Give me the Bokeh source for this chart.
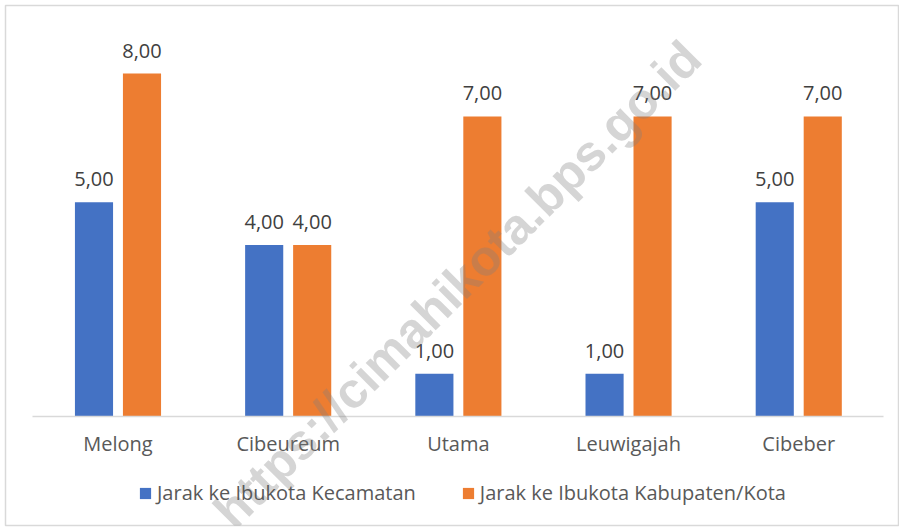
import numpy as np
from bokeh.plotting import figure
from bokeh.models import ColumnDataSource, Range1d, Legend, LegendItem, Label, FixedTicker
from bokeh.core.properties import value
from bokeh.embed import file_html
from bokeh.resources import INLINE

categories = ["Melong", "Cibeureum", "Utama", "Leuwigajah", "Cibeber"]
kecamatan = [5.0, 4.0, 1.0, 1.0, 5.0]
kabupaten = [8.0, 4.0, 7.0, 7.0, 7.0]
series_names = ["Jarak ke Ibukota Kecamatan", "Jarak ke Ibukota Kabupaten/Kota"]
watermark = "https://cimahikota.bps.go.id"

def fmt(v):
    return f"{v:.2f}".replace(".", ",")

off = 0.141
bw = 0.224
idx = np.arange(len(categories))

src = ColumnDataSource(dict(
    x_kec=idx - off,
    x_kab=idx + off,
    kec=kecamatan,
    kab=kabupaten,
    kec_lbl=[fmt(v) for v in kecamatan],
    kab_lbl=[fmt(v) for v in kabupaten],
))

FONT = "Open Sans"
BLUE = "#4472C4"
ORANGE = "#ED7D31"

W, H = 899, 527
p = figure(width=W, height=H, x_range=Range1d(-0.661, 4.592), y_range=Range1d(-2.542, 9.586),
           output_backend="svg", toolbar_location=None,
           min_border_left=5, min_border_right=0, min_border_top=5, min_border_bottom=2)
p.outline_line_color = "#D9D9D9"
p.outline_line_width = 1.5
p.xgrid.visible = False
p.ygrid.visible = False
p.yaxis.visible = False
p.background_fill_color = "white"
p.border_fill_color = "white"

r1 = p.vbar(x="x_kec", top="kec", width=bw, source=src, fill_color=BLUE, line_color=None)
r2 = p.vbar(x="x_kab", top="kab", width=bw, source=src, fill_color=ORANGE, line_color=None)

for xc, col, lbl in [("x_kec", "kec", "kec_lbl"), ("x_kab", "kab", "kab_lbl")]:
    p.text(x=xc, y=col, text=lbl, source=src,
           text_align="center", text_baseline="alphabetic", y_offset=-23,
           text_font=value(FONT), text_font_size="20px", text_color="#404040")

ax = p.xaxis[0]
ax.fixed_location = 0
ax.bounds = (-0.5, len(categories) - 0.5)
ax.ticker = FixedTicker(ticks=list(range(len(categories))))
ax.major_label_overrides = {i: c for i, c in enumerate(categories)}
ax.axis_line_color = "#D9D9D9"
ax.axis_line_width = 1.5
ax.major_tick_line_color = None
ax.minor_tick_line_color = None
ax.major_label_text_font = FONT
ax.major_label_text_font_size = "20px"
ax.major_label_text_color = "#595959"
ax.major_label_standoff = 7

legend = Legend(items=[LegendItem(label=series_names[0], renderers=[r1]),
                       LegendItem(label=series_names[1], renderers=[r2])],
                orientation="horizontal", location=(133, 19))
legend.label_text_font = FONT
legend.label_text_font_size = "20px"
legend.label_text_color = "#595959"
legend.glyph_width = 14
legend.glyph_height = 14
legend.label_standoff = 5
legend.spacing = 45
legend.padding = 0
legend.margin = 0
legend.border_line_color = None
legend.background_fill_alpha = 0
legend.label_height = 20
p.add_layout(legend)

wm = Label(x=452, y=241, x_units="screen", y_units="screen", text=watermark,
           angle=45, angle_units="deg", text_align="center", text_baseline="middle",
           text_font="Liberation Sans", text_font_style="bold", text_font_size="50px",
           text_color="#808080", text_alpha=0.33)
p.add_layout(wm)

open("out.html", "w").write(file_html(p, INLINE))
